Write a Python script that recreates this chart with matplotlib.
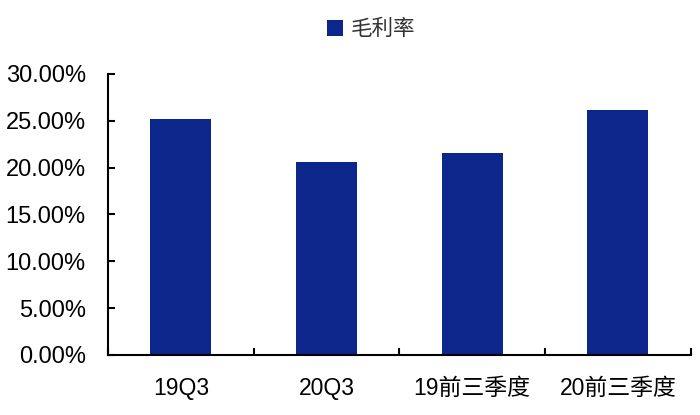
import matplotlib
matplotlib.use("Agg")
import matplotlib.pyplot as plt
from matplotlib.ticker import FixedLocator, PercentFormatter
import numpy as np

plt.rcParams["font.family"] = ["Liberation Sans", "Noto Sans CJK SC", "DejaVu Sans"]

# Data
categories = ["19Q3", "20Q3", "19前三季度", "20前三季度"]
gross_margin = [25.2, 20.6, 21.6, 26.2]   # %
series_name = "毛利率"

bar_color = "#0C268C"

fig = plt.figure(figsize=(7, 4.15), dpi=100)
ax = fig.add_axes([0.1543, 0.1446, 0.8324, 0.6771])

x = np.arange(len(categories))
ax.bar(x, gross_margin, width=0.42, color=bar_color, label=series_name, zorder=2)

ax.set_xlim(-0.5, len(categories) - 0.5)
ax.set_ylim(0, 30)
ax.set_yticks(np.arange(0, 30.1, 5))
ax.yaxis.set_major_formatter(PercentFormatter(decimals=2))

ax.set_xticks(x)
ax.set_xticklabels(categories)
ax.xaxis.set_minor_locator(FixedLocator(np.arange(-0.5, len(categories), 1.0)))

for s in ["top", "right"]:
    ax.spines[s].set_visible(False)
for s in ["left", "bottom"]:
    ax.spines[s].set_linewidth(1.5)

ax.tick_params(axis="y", direction="in", length=5, width=1.5, pad=16,
               labelsize=17, colors="black")
ax.tick_params(axis="x", which="major", length=0, pad=16, labelsize=16.5)
ax.tick_params(axis="x", which="minor", direction="in", length=5, width=1.5)

ax.legend(loc="center", bbox_to_anchor=(0.451, 1.157), frameon=False,
          fontsize=15.5, handlelength=0.75, handleheight=0.75,
          handletextpad=0.35, labelcolor="#333333")

fig.savefig("out.png", dpi=100)
